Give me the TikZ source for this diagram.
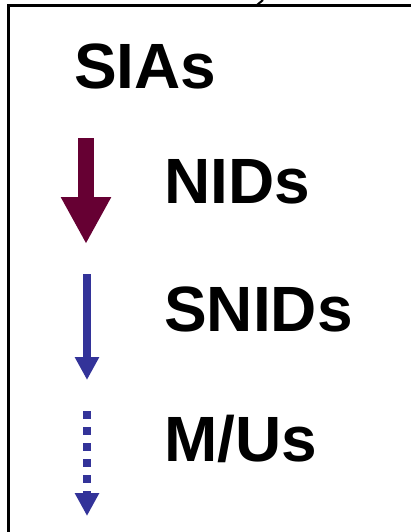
\documentclass[tikz,border=0pt]{standalone}
\usepackage{fontspec}
\setmainfont{Liberation Sans}
\usepackage{xcolor}
\usetikzlibrary{arrows.meta}
\definecolor{nidred}{HTML}{660033}
\definecolor{snidblue}{HTML}{333399}

\begin{document}
\begin{tikzpicture}[
  x=1pt, y=-1pt,
  label/.style={anchor=base west, inner sep=0pt, font=\fontsize{64}{72}\selectfont\bfseries},
  bigarrow/.style={draw=nidred, line width=16pt, -{Triangle[length=47pt, width=47pt]}},
  thinarrow/.style={draw=snidblue, line width=8pt, -{Triangle[length=23pt, width=23pt]}},
  dotarrow/.style={thinarrow, dash pattern=on 8pt off 8pt},
]
\useasboundingbox (0,0) rectangle (410,532);

% Frame (cut off at right and bottom)
\draw[line width=3pt, miter limit=10] (8.5,540) -- (8.5,5.5) -- (420,5.5);
\draw[line width=2pt] (263,0) -- (257,5);

% Labels
\node[label] (sias) at (74,89) {SIAs};
\node[label] (nids) at (164,203) {NIDs};
\node[label] (snids) at (164,331) {SNIDs};
\node[label] (mus) at (164,461) {M/Us};

% Arrows
\coordinate (nidtop) at (86,138);
\coordinate (nidtip) at (86,244);
\coordinate (snidtop) at (87,274);
\coordinate (snidtip) at (87,380);
\coordinate (mutop) at (87,411);
\coordinate (mutip) at (87,516);
\draw[bigarrow] (nidtop) -- (nidtip);
\draw[thinarrow] (snidtop) -- (snidtip);
\draw[dotarrow] (mutop) -- (mutip);
\end{tikzpicture}
\end{document}
